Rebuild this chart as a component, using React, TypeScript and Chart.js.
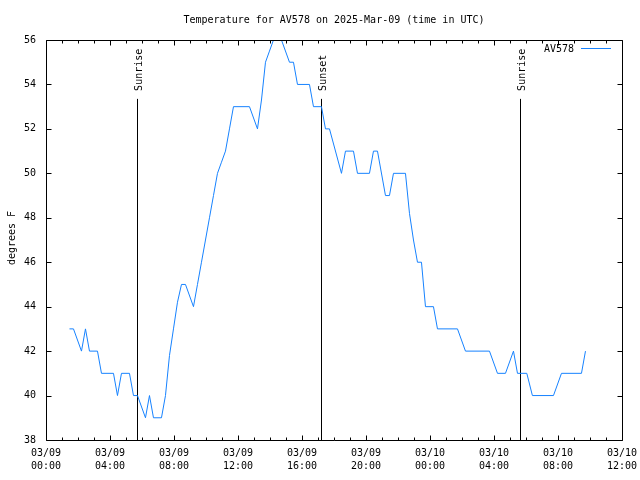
import React, { useEffect, useRef } from 'react';
import { Chart, registerables } from 'chart.js';

Chart.register(...registerables);

const TITLE = 'Temperature for AV578 on 2025-Mar-09 (time in UTC)';
const SERIES_NAME = 'AV578';
const Y_LABEL = 'degrees F';
const MONTH = '03';
const START_DAY = 9;

// hours since 2025-03-09 00:00 UTC (vertices of the trace)
const HOURS = [
  1.467, 1.717, 2.217, 2.467, 2.717, 3.217, 3.467, 4.217, 4.467, 4.717,
  5.217, 5.467, 5.717, 6.217, 6.467, 6.717, 7.217, 7.467, 7.717, 7.967,
  8.217, 8.467, 8.717, 9.217, 9.467, 9.717, 9.967, 10.217, 10.467, 10.717,
  10.967, 11.217, 11.467, 11.717, 12.717, 13.217, 13.467, 13.717, 13.967, 14.217,
  14.717, 15.217, 15.467, 15.717, 16.467, 16.717, 17.217, 17.467, 17.717, 18.467,
  18.717, 19.217, 19.467, 20.217, 20.467, 20.717, 21.217, 21.467, 21.717, 22.467,
  22.717, 22.967, 23.217, 23.467, 23.717, 24.217, 24.467, 25.717, 26.217, 27.717,
  28.217, 28.717, 29.217, 29.467, 30.05, 30.4, 31.717, 32.217, 33.467, 33.717,
];
const TEMPS = [
  43, 43, 42, 43, 42, 42, 41, 41, 40, 41,
  41, 40, 40, 39, 40, 39, 39, 40, 41.8, 43,
  44.2, 45, 45, 44, 45, 46, 47, 48, 49, 50,
  50.5, 51, 52, 53, 53, 52, 53.3, 55, 55.5, 56,
  56, 55, 55, 54, 54, 53, 53, 52, 52, 50,
  51, 51, 50, 50, 51, 51, 49, 49, 50, 50,
  48.2, 47, 46, 46, 44, 44, 43, 43, 42, 42,
  41, 41, 42, 41, 41, 40, 40, 41, 41, 42,
];

const EVENT_LABELS = ['Sunrise', 'Sunset', 'Sunrise'];
const EVENT_HOURS = [5.67, 17.17, 29.65];
const EVENT_TOP = 53.35;

const X_MIN = 0;
const X_MAX = 36;
const X_STEP = 4;
const X_MINOR = 1;
const Y_MIN = 38;
const Y_MAX = 56;
const Y_STEP = 2;

const LINE_COLOR = '#1682ff';
const FONT = '"DejaVu Sans Mono", "Liberation Mono", monospace';

const pad = (n: number) => (n < 10 ? '0' + n : '' + n);

const decor = {
  id: 'decor',
  beforeDatasetsDraw(chart: any) {
    const { ctx, chartArea: a, scales } = chart;
    const x = scales.x;
    const y = scales.y;
    ctx.save();
    ctx.strokeStyle = '#000';
    ctx.lineWidth = 1;
    ctx.fillStyle = '#000';
    ctx.font = `10px ${FONT}`;
    for (let i = 0; i < EVENT_HOURS.length; i++) {
      const px = Math.round(x.getPixelForValue(EVENT_HOURS[i])) + 0.5;
      const top = y.getPixelForValue(EVENT_TOP);
      ctx.beginPath();
      ctx.moveTo(px, top);
      ctx.lineTo(px, a.bottom);
      ctx.stroke();
      ctx.save();
      ctx.translate(px + 2, top - 8);
      ctx.rotate(-Math.PI / 2);
      ctx.textAlign = 'left';
      ctx.textBaseline = 'middle';
      ctx.fillText(EVENT_LABELS[i], 0, 0);
      ctx.restore();
    }
    ctx.restore();
  },
  afterDraw(chart: any) {
    const { ctx, chartArea: a, scales } = chart;
    const x = scales.x;
    const y = scales.y;
    ctx.save();
    ctx.strokeStyle = '#000';
    ctx.lineWidth = 1;
    const L = Math.round(a.left) + 0.5;
    const R = Math.round(a.right) + 0.5;
    const T = Math.round(a.top) + 0.5;
    const B = Math.round(a.bottom) + 0.5;
    ctx.beginPath();
    ctx.rect(L, T, R - L, B - T);
    // x ticks (inward, bottom and top)
    for (let h = X_MIN; h <= X_MAX; h += X_MINOR) {
      const px = Math.round(x.getPixelForValue(h)) + 0.5;
      const len = h % X_STEP === 0 ? 5 : 3;
      ctx.moveTo(px, B);
      ctx.lineTo(px, B - len);
      ctx.moveTo(px, T);
      ctx.lineTo(px, T + len);
    }
    // y ticks (inward, left and right)
    for (let v = Y_MIN; v <= Y_MAX; v += Y_STEP) {
      const py = Math.round(y.getPixelForValue(v)) + 0.5;
      ctx.moveTo(L, py);
      ctx.lineTo(L + 5, py);
      ctx.moveTo(R, py);
      ctx.lineTo(R - 5, py);
    }
    ctx.stroke();

    ctx.fillStyle = '#000';
    ctx.font = `10px ${FONT}`;
    // title
    ctx.textAlign = 'center';
    ctx.textBaseline = 'middle';
    ctx.fillText(TITLE, (a.left + a.right) / 2, 20);
    // y label
    ctx.save();
    ctx.translate(12, (a.top + a.bottom) / 2 - 2);
    ctx.rotate(-Math.PI / 2);
    ctx.fillText(Y_LABEL, 0, 0);
    ctx.restore();
    // legend
    ctx.textAlign = 'right';
    ctx.fillText(SERIES_NAME, 574, 49);
    ctx.strokeStyle = LINE_COLOR;
    ctx.beginPath();
    ctx.moveTo(581, 48.5);
    ctx.lineTo(611, 48.5);
    ctx.stroke();
    ctx.restore();
  },
};

export default function App() {
  const ref = useRef<HTMLCanvasElement | null>(null);
  useEffect(() => {
    if (!ref.current) return;
    const data = HOURS.map((h, i) => ({ x: h, y: TEMPS[i] }));
    const chart = new Chart(ref.current, {
      type: 'line',
      data: {
        datasets: [
          {
            label: SERIES_NAME,
            data,
            borderColor: LINE_COLOR,
            borderWidth: 1,
            pointRadius: 0,
            tension: 0,
            fill: false,
          },
        ],
      },
      options: {
        responsive: false,
        animation: false,
        layout: { padding: { left: 0, right: 18, top: 40, bottom: 0 } },
        plugins: {
          legend: { display: false },
          title: { display: false },
          tooltip: { enabled: false },
        },
        scales: {
          x: {
            type: 'linear',
            min: X_MIN,
            max: X_MAX,
            grid: { display: false, drawTicks: false },
            border: { display: false },
            ticks: {
              stepSize: X_STEP,
              padding: 7,
              maxRotation: 0,
              autoSkip: false,
              color: '#000',
              font: { family: FONT, size: 10, lineHeight: 1.3 },
              callback: (value: any) => {
                const h = Number(value);
                const d = START_DAY + Math.floor(h / 24);
                const hh = h % 24;
                return [`${MONTH}/${pad(d)}`, `${pad(hh)}:00`];
              },
            },
            afterFit: (s: any) => {
              s.height = 40;
              s.paddingLeft = 0;
              s.paddingRight = 0;
            },
          },
          y: {
            min: Y_MIN,
            max: Y_MAX,
            grid: { display: false, drawTicks: false },
            border: { display: false },
            ticks: {
              stepSize: Y_STEP,
              padding: 10,
              color: '#000',
              font: { family: FONT, size: 10 },
            },
            afterFit: (s: any) => {
              s.width = 46;
              s.paddingTop = 0;
              s.paddingBottom = 0;
            },
          },
        },
      },
      plugins: [decor],
    });
    return () => chart.destroy();
  }, []);
  return (
    <div style={{ position: 'absolute', left: 0, top: 0, width: 640, height: 480, background: '#fff' }}>
      <canvas ref={ref} width={640} height={480} style={{ width: 640, height: 480 }} />
    </div>
  );
}
